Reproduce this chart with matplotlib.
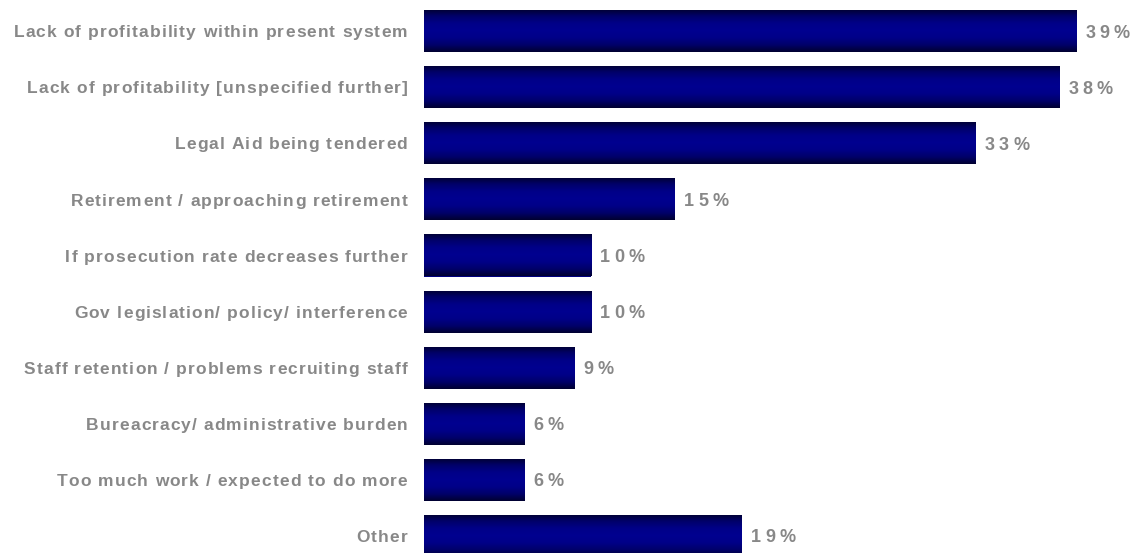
import numpy as np
import matplotlib.pyplot as plt
from matplotlib.colors import LinearSegmentedColormap
from matplotlib.font_manager import FontProperties, findfont, get_font
from matplotlib.transforms import offset_copy

# reasons and share of respondents (%)
reasons = [
    "Lack of profitability within present system",
    "Lack of profitability [unspecified further]",
    "Legal Aid being tendered",
    "Retirement / approaching retirement",
    "If prosecution rate decreases further",
    "Gov legislation/ policy/ interference",
    "Staff retention / problems recruiting staff",
    "Bureacracy/ administrative burden",
    "Too much work / expected to do more",
    "Other",
]
values = [39, 38, 33, 15, 10, 10, 9, 6, 6, 19]

grey = "#888888"
navy = LinearSegmentedColormap.from_list(
    "navy", ["#000030", "#00006a", "#000088", "#000090", "#000088", "#00006a", "#000030"])

label_font = FontProperties(family="Liberation Sans", weight="bold", size=12.5)
value_font = FontProperties(family="Liberation Sans", weight="bold", size=13)


def advances(s, prop):
    # glyph advance widths in points
    font = get_font(findfont(prop))
    font.set_size(prop.get_size_in_points(), 72)
    return [font.load_char(ord(c)).linearHoriAdvance / 65536 for c in s]


def spaced_text(ax, x, y, s, prop, track, ha="left", dx=0.0):
    # draw text letter by letter with extra spacing (track, in points)
    adv = advances(s, prop)
    total = sum(adv) + track * (len(s) - 1)
    start = dx - total if ha == "right" else dx
    base = ax.get_yaxis_transform() if ha == "right" else ax.transData
    dy = -0.36 * prop.get_size_in_points()
    pos = start
    for c, a in zip(s, adv):
        if c != " ":
            tr = offset_copy(base, fig=ax.figure, x=pos, y=dy, units="points")
            ax.text(x, y, c, transform=tr, fontproperties=prop, color=grey,
                    ha="left", va="baseline")
        pos += a + track


fig = plt.figure(figsize=(11.34, 5.53), dpi=100)
ax = fig.add_axes([424 / 1134, 0, 710 / 1134, 1])

y = np.arange(len(reasons))
bars = ax.barh(y, values, height=0.75, color="#000080", linewidth=0)

# vertical shading on each bar
grad = np.linspace(0, 1, 256).reshape(-1, 1)
for b in bars:
    x0, y0, w, h = b.get_x(), b.get_y(), b.get_width(), b.get_height()
    im = ax.imshow(grad, cmap=navy, aspect="auto", extent=[x0, x0 + w, y0 + h, y0],
                   zorder=3, interpolation="bilinear")
    im.set_clip_path(b)

for yi, name, v in zip(y, reasons, values):
    spaced_text(ax, 0, yi, name, label_font, 0.8, ha="right", dx=-12.0)
    spaced_text(ax, v, yi, f"{v}%", value_font, 3.0, ha="left", dx=6.5)

ax.set_xlim(0, 42.46)
ax.set_ylim(9.303, -0.553)
ax.set_xticks([])
ax.set_yticks([])
for s in ax.spines.values():
    s.set_visible(False)

fig.savefig("out.png", dpi=100)
